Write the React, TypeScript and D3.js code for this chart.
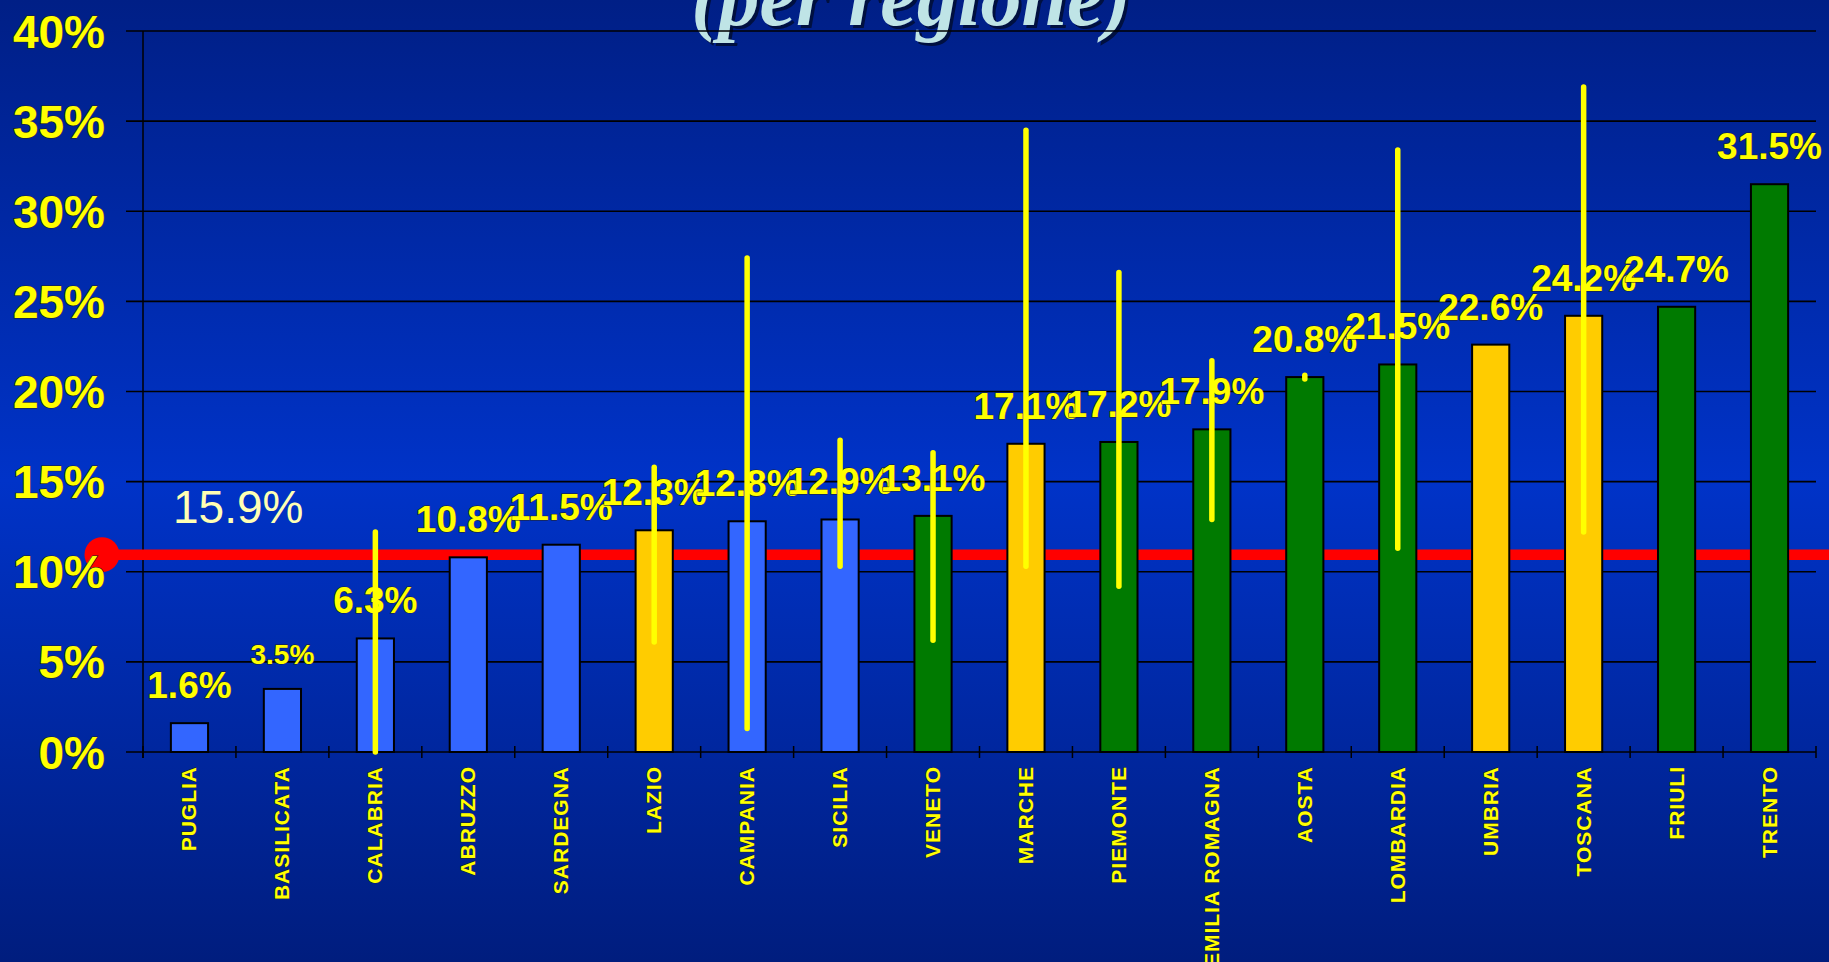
import React from "react";
import * as d3 from "d3";

const categories = [
  "PUGLIA", "BASILICATA", "CALABRIA", "ABRUZZO", "SARDEGNA", "LAZIO", "CAMPANIA", "SICILIA", "VENETO",
  "MARCHE", "PIEMONTE", "EMILIA ROMAGNA", "AOSTA", "LOMBARDIA", "UMBRIA", "TOSCANA", "FRIULI", "TRENTO",
];
const values = [1.6, 3.5, 6.3, 10.8, 11.5, 12.3, 12.8, 12.9, 13.1, 17.1, 17.2, 17.9, 20.8, 21.5, 22.6, 24.2, 24.7, 31.5];
const groups = ["b", "b", "b", "b", "b", "y", "b", "b", "g", "y", "g", "g", "g", "g", "y", "y", "g", "g"];
const errLow: (number | null)[] = [null, null, 0, null, null, 6.1, 1.3, 10.3, 6.2, 10.3, 9.2, 12.9, 20.7, 11.3, null, 12.2, null, null];
const errHigh: (number | null)[] = [null, null, 12.2, null, null, 15.8, 27.4, 17.3, 16.6, 34.5, 26.6, 21.7, 20.9, 33.4, null, 36.9, null, null];
const yTicks = [0, 5, 10, 15, 20, 25, 30, 35, 40];
const refValue = 10.95;
const refLabel = "15.9%";
const title = "(per regione)";

const groupColor: Record<string, string> = { b: "#3366FF", y: "#FFCC00", g: "#007A00" };

const W = 1829;
const H = 962;
const FONT = "'Liberation Sans', Arial, sans-serif";

export default function App() {
  const x = d3.scaleBand<string>().domain(categories).range([143, 1816]).paddingInner(0.6).paddingOuter(0.3);
  const y = d3.scaleLinear().domain([0, 40]).range([752, 31]);
  const step = x.step();
  const bw = x.bandwidth();
  const cx = (c: string) => (x(c) as number) + bw / 2;

  return (
    <svg width={W} height={H} style={{ position: "absolute", left: 0, top: 0, display: "block" }}>
      <defs>
        <linearGradient id="bg" x1="0" y1="0" x2="0" y2="1">
          <stop offset="0" stopColor="#001F86" />
          <stop offset="0.5" stopColor="#0033C8" />
          <stop offset="1" stopColor="#001D7E" />
        </linearGradient>
      </defs>
      <rect x={0} y={0} width={W} height={H} fill="url(#bg)" />

      {/* title (cut off) */}
      <text x={914} y={28} textAnchor="middle" fontFamily="'Liberation Serif', 'DejaVu Serif', serif" fontStyle="italic" fontWeight="bold" fontSize={82} fill="#001040">{title}</text>
      <text x={911} y={25} textAnchor="middle" fontFamily="'Liberation Serif', 'DejaVu Serif', serif" fontStyle="italic" fontWeight="bold" fontSize={82} fill="#BFE4E6">{title}</text>

      {/* gridlines */}
      {yTicks.map((t) => (
        <line key={"g" + t} x1={126} x2={1816} y1={y(t)} y2={y(t)} stroke="#000" strokeWidth={1.6} />
      ))}
      {/* y axis */}
      <line x1={143} x2={143} y1={y(40)} y2={758} stroke="#000" strokeWidth={1.5} />
      {/* x ticks */}
      {d3.range(categories.length + 1).map((i) => (
        <line key={"xt" + i} x1={143 + i * step} x2={143 + i * step} y1={746} y2={758} stroke="#000" strokeWidth={1.5} />
      ))}

      {/* reference line */}
      <line x1={102} x2={W} y1={y(refValue)} y2={y(refValue)} stroke="#FF0000" strokeWidth={10.5} />
      <circle cx={102} cy={y(refValue)} r={17.5} fill="#FF0000" />

      {/* y tick labels */}
      {yTicks.map((t) => (
        <text key={"yl" + t} x={105} y={y(t)} dy="0.36em" textAnchor="end" fontFamily={FONT} fontWeight="bold" fontSize={46}
          fill="#FFFF00" stroke="#222" strokeWidth={1.2} paintOrder="stroke">{t + "%"}</text>
      ))}

      <text x={173} y={523} fontFamily={FONT} fontSize={46} fill="#FFFFB3">{refLabel}</text>

      {/* bars */}
      {categories.map((c, i) => (
        <rect key={"b" + c} x={x(c)} y={y(values[i])} width={bw} height={y(0) - y(values[i])}
          fill={groupColor[groups[i]]} stroke="#000" strokeWidth={2} />
      ))}

      {/* value labels */}
      {categories.map((c, i) => (
        <text key={"v" + c} x={cx(c)} y={y(values[i]) - 25} textAnchor="middle" fontFamily={FONT} fontWeight="bold"
          fontSize={c === "BASILICATA" ? 28 : 37} fill="#FFFF00" stroke="#222" strokeWidth={1} paintOrder="stroke">
          {values[i].toFixed(1) + "%"}
        </text>
      ))}

      {/* error bars */}
      {categories.map((c, i) =>
        errLow[i] !== null && errHigh[i] !== null ? (
          <line key={"e" + c} x1={cx(c)} x2={cx(c)} y1={y(errLow[i] as number)} y2={y(errHigh[i] as number)}
            stroke="#FFFF00" strokeWidth={5.5} strokeLinecap="round" />
        ) : null
      )}

      {/* category labels */}
      {categories.map((c) => (
        <text key={"c" + c} transform={`translate(${cx(c) + 7},766) rotate(-90)`} textAnchor="end" fontFamily={FONT}
          fontWeight="bold" fontSize={21} letterSpacing={1} fill="#FFFF00" stroke="#222" strokeWidth={0.8} paintOrder="stroke">
          {c}
        </text>
      ))}
    </svg>
  );
}
